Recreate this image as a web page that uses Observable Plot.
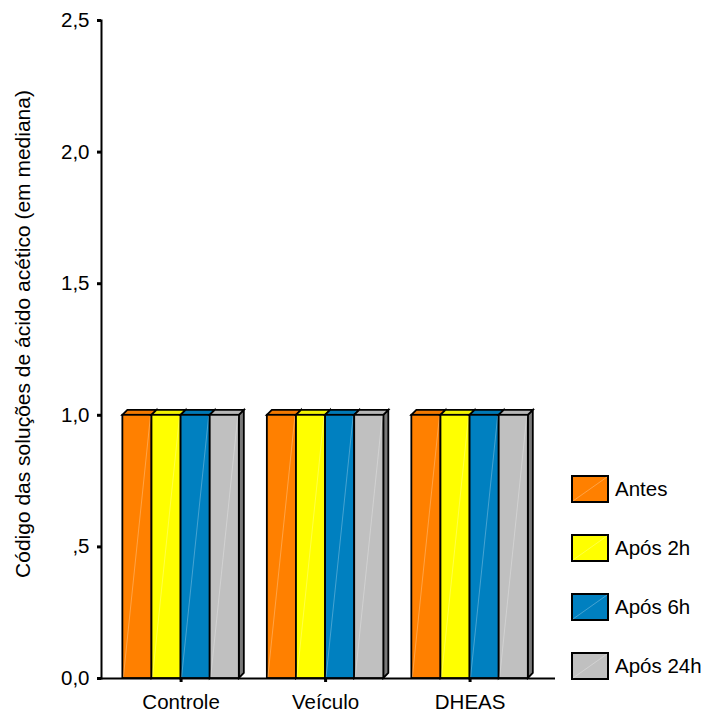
<!DOCTYPE html>
<html><head><meta charset="utf-8">
<script src="https://cdn.jsdelivr.net/npm/d3@7"></script>
<script src="https://cdn.jsdelivr.net/npm/@observablehq/plot@0.6"></script>
<style>
body{margin:0;background:#fff;font-family:"Liberation Sans",Arial,sans-serif;}
#wrap{position:relative;width:710px;height:713px;}
#wrap > svg{position:absolute;left:0;top:0;}
#legend{position:absolute;left:571px;top:475px;}
.item{display:flex;align-items:center;height:28px;margin-bottom:31px;font-size:20.5px;color:#000;}
.item svg{margin-right:6px;}
</style></head><body><div id="wrap"><div id="legend"></div></div>
<script>
const groups = ["Controle", "Veículo", "DHEAS"];
const series = ["Antes", "Após 2h", "Após 6h", "Após 24h"];
const colors = ["#FF8000", "#FFFF00", "#0080C0", "#C0C0C0"];
const controle = [1.0, 1.0, 1.0, 1.0];
const veiculo = [1.0, 1.0, 1.0, 1.0];
const dheas = [1.0, 1.0, 1.0, 1.0];
const yTicks = [0, 0.5, 1, 1.5, 2, 2.5];
const yTickLabels = ["0,0", ",5", "1,0", "1,5", "2,0", "2,5"];
const yTitle = "Código das soluções de ácido acético (em mediana)";

const groupValues = [controle, veiculo, dheas];
const data = groups.flatMap((g, gi) => series.map((s, si) => ({group: g, series: s, value: groupValues[gi][si]})));

const ns = "http://www.w3.org/2000/svg";
function bar3d(index, scales, values, dimensions, context, next) {
  const g = next(index, scales, values, dimensions, context);
  const d = 5;
  const rects = Array.from(g.querySelectorAll("rect"));
  rects.forEach(r => {
    const x = +r.getAttribute("x"), y = +r.getAttribute("y");
    const w = +r.getAttribute("width"), h = +r.getAttribute("height");
    const fill = r.getAttribute("fill") || "#ccc";
    const side = document.createElementNS(ns, "polygon");
    side.setAttribute("points", `${x+w},${y} ${x+w+d},${y-d} ${x+w+d},${y+h-d} ${x+w},${y+h}`);
    side.setAttribute("fill", d3.color(fill).darker(1.3).formatHex());
    const top = document.createElementNS(ns, "polygon");
    top.setAttribute("points", `${x},${y} ${x+d},${y-d} ${x+w+d},${y-d} ${x+w},${y}`);
    top.setAttribute("fill", d3.color(fill).darker(0.15).formatHex());
    r.parentNode.insertBefore(side, r);
    r.parentNode.insertBefore(top, r);
    const diag = document.createElementNS(ns, "line");
    diag.setAttribute("x1", x + 1); diag.setAttribute("y1", y + h - 1);
    diag.setAttribute("x2", x + w - 1); diag.setAttribute("y2", y + 1);
    diag.setAttribute("stroke", "#fff"); diag.setAttribute("stroke-opacity", 0.35);
    diag.setAttribute("stroke-width", 0.8);
    r.after(diag);
  });
  return g;
}

const common = {
  width: 710,
  height: 713,
  marginLeft: 101,
  marginRight: 155,
  marginTop: 20,
  marginBottom: 35,
  y: {domain: [0, 2.5], label: null}
};
const bandOpts = {domain: groups, paddingInner: 0.194, paddingOuter: 0.168, align: 0.44, round: false, label: null};

// Layer 1: y axis, baseline, title
const axes = Plot.plot({
  ...common,
  style: {fontFamily: "'Liberation Sans', Arial, sans-serif", fontSize: "20.5px", color: "#000", background: "#fff"},
  marks: [
    Plot.frame({anchor: "left", stroke: "#000", strokeWidth: 2}),
    Plot.ruleY([0], {stroke: "#000", strokeWidth: 2}),
    Plot.axisY(yTicks, {anchor: "left", tickSize: 4, tickPadding: 8, strokeWidth: 3,
      tickFormat: d => yTickLabels[yTicks.indexOf(d)], fontSize: 20.5, label: null}),
    Plot.text([yTitle], {frameAnchor: "left", textAnchor: "middle", rotate: -90, dx: -78, dy: -15.5, fontSize: 21, fill: "#000"})
  ]
});

// Layer 2: bars faceted by group, with the group axis
const bars = Plot.plot({
  ...common,
  style: {fontFamily: "'Liberation Sans', Arial, sans-serif", fontSize: "20.5px", color: "#000", background: "transparent"},
  fx: bandOpts,
  x: {domain: series, padding: 0, round: false, axis: null},
  y: {domain: [0, 2.5], axis: null},
  color: {domain: series, range: colors},
  marks: [
    Plot.barY(data, {fx: "group", x: "series", y: "value", fill: "series", stroke: "#000", strokeWidth: 1.8, render: bar3d}),
    Plot.axisFx({anchor: "bottom", tickSize: 4, tickPadding: 12, strokeWidth: 3, fontSize: 20.5, label: null})
  ]
});

const wrap = document.getElementById("wrap");
wrap.prepend(bars);
wrap.prepend(axes);

const legend = document.getElementById("legend");
series.forEach((s, i) => {
  const item = document.createElement("div");
  item.className = "item";
  item.innerHTML = `<svg width="38" height="28"><rect x="1" y="1" width="36" height="26" fill="${colors[i]}" stroke="#000" stroke-width="2"/><line x1="2" y1="26" x2="36" y2="2" stroke="#fff" stroke-opacity="0.35" stroke-width="0.8"/></svg><span>${s}</span>`;
  legend.appendChild(item);
});
</script></body></html>
